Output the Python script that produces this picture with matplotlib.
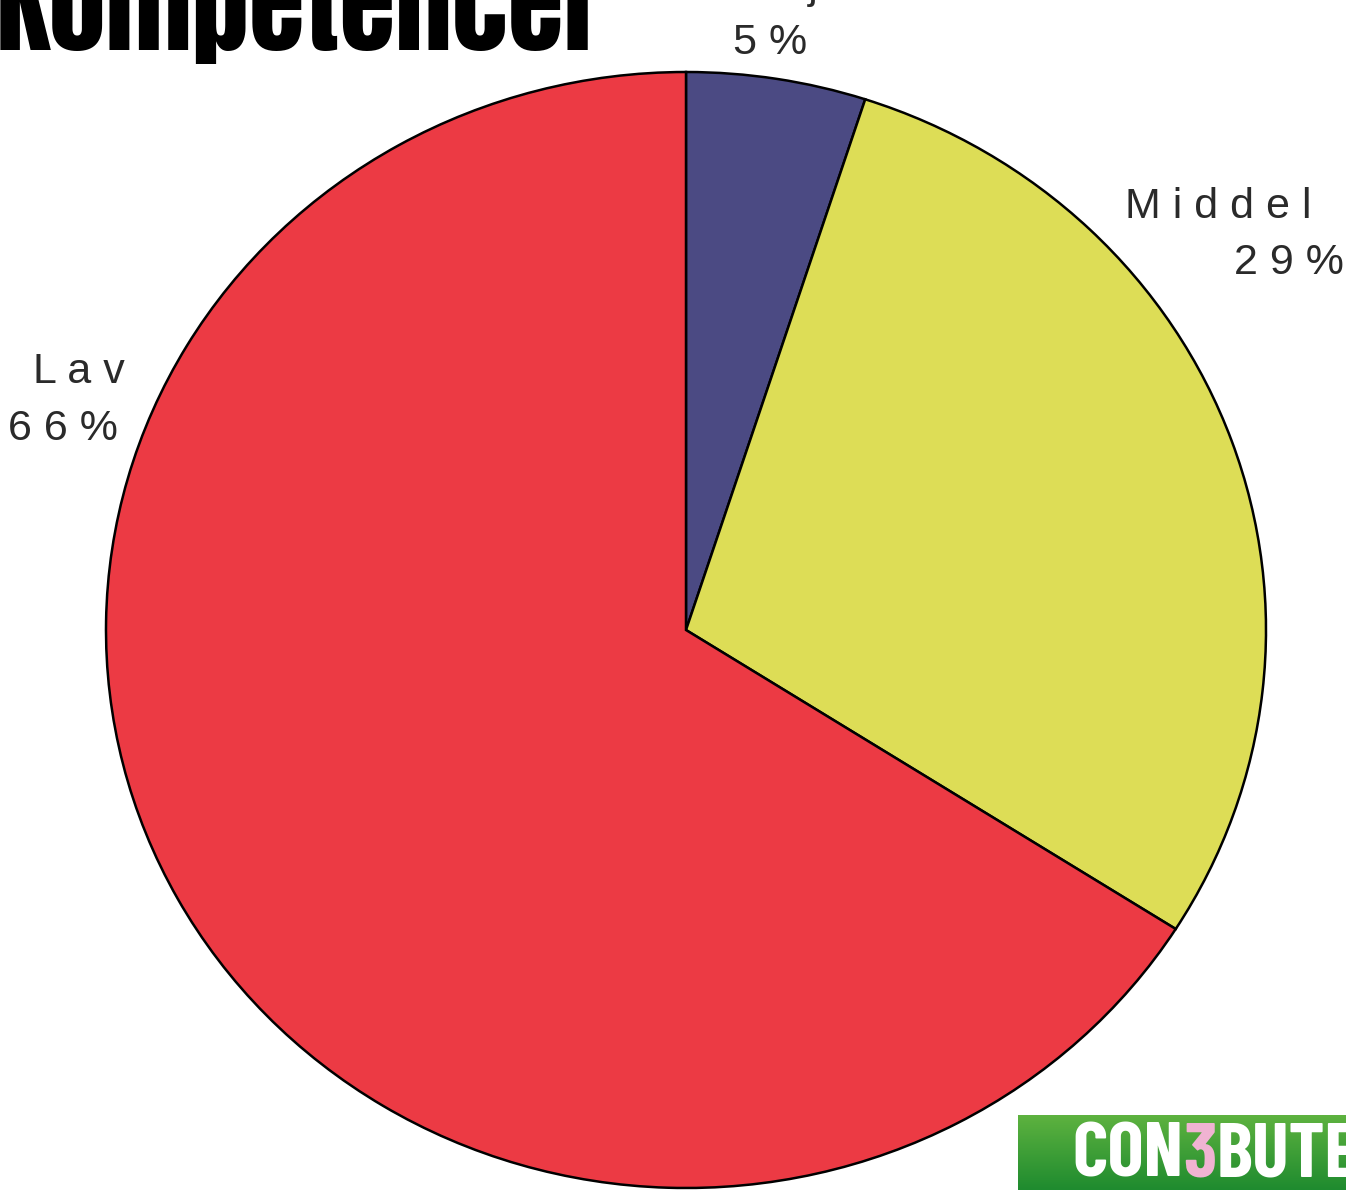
import matplotlib.pyplot as plt
import numpy as np
from matplotlib.colors import LinearSegmentedColormap

# Data
categories = ['Høj', 'Middel', 'Lav']
shares = [5, 29, 66]
colors = ['#4b4a83', '#dddd56', '#ec3a44']

W, H = 1346, 1191
fig = plt.figure(figsize=(W / 100, H / 100), dpi=100)
fig.patch.set_facecolor('white')


def px(x, y):
    # pixel (from top-left) -> figure fraction
    return x / W, 1 - y / H


# Pie
ax = fig.add_axes([0, 0, 1, 1])
ax.pie(shares, colors=colors, startangle=90, counterclock=False,
       wedgeprops=dict(edgecolor='black', linewidth=1.8))
ax.set_aspect('auto')
cx, cy, rx, ry = 686, 630, 580, 558
ax.set_xlim(-cx / rx, (W - cx) / rx)
ax.set_ylim(-(H - cy) / ry, cy / ry)
ax.axis('off')

# Labels (spaced letters like the original)
def spaced(s):
    return ' '.join(s)

lab = dict(fontsize=31, color='#2a2a2a', family=['Liberation Sans', 'DejaVu Sans'],
           va='baseline')
fig.text(*px(818, -2), spaced(categories[0]), ha='right', **lab)
fig.text(*px(733, 54), spaced(f'{shares[0]}%'), ha='left', **lab)
fig.text(*px(1125, 218), spaced(categories[1]), ha='left', **lab)
fig.text(*px(1344, 274), spaced(f'{shares[1]}%'), ha='right', **lab)
fig.text(*px(33, 383), spaced(categories[2]), ha='left', **lab)
fig.text(*px(8, 440), spaced(f'{shares[2]}%'), ha='left', **lab)

# Title (cut off at top)
fig.text(*px(-4, 50), 'Kompetencer', fontsize=82,
         family=['Anton', 'DejaVu Sans'], color='black',
         ha='left', va='baseline')

# Logo
lx0, ly0, ly1 = 1018, 1115, 1190
lax = fig.add_axes([lx0 / W, 1 - ly1 / H, (W - lx0) / W, (ly1 - ly0) / H])
green = LinearSegmentedColormap.from_list('g', ['#1f8b2f', '#5db23f'])
lax.imshow(np.linspace(0, 1, 50)[:, None], cmap=green, aspect='auto',
           origin='lower', extent=[0, 1, 0, 1])
lax.axis('off')
logo = dict(fontsize=55, fontweight='bold', va='bottom',
            family=['Barlow Condensed', 'DejaVu Sans'])
t1 = lax.text(0.165, -0.02, 'CON', color='white', transform=lax.transAxes, **logo)
t2 = lax.annotate('3', xy=(1, 0), xycoords=t1, color='#f0b3d2', **logo)
lax.annotate('BUTE', xy=(1, 0), xycoords=t2, color='white', **logo)

fig.savefig('out.png', dpi=100)
